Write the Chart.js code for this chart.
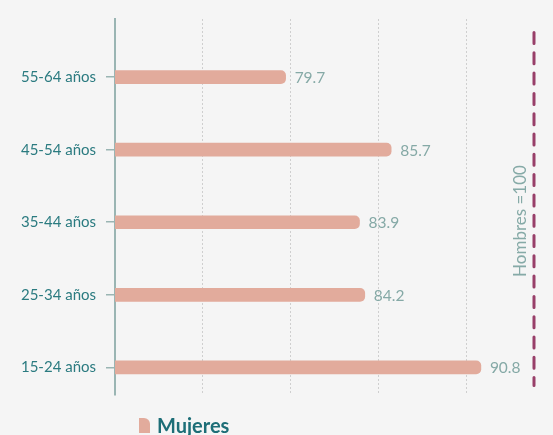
<!DOCTYPE html>
<html>
<head>
<meta charset="utf-8">
<script src="https://cdn.jsdelivr.net/npm/chart.js@4"></script>
<style>
  html, body { margin: 0; padding: 0; background: #f5f5f5; }
  #wrap { position: relative; width: 553px; height: 435px; overflow: hidden; }
  #legend { position: absolute; left: 139px; top: 413px; font: bold 20px Lato, sans-serif; color: #1d6e77; display: flex; align-items: center; }
  #legend .box { width: 11px; height: 15px; background: #e2ab9c; border-top-right-radius: 6px; margin-right: 7px; }
</style>
</head>
<body>
<div id="wrap">
  <canvas id="grafico" width="553" height="435"></canvas>
  <div id="legend"><span class="box"></span>Mujeres</div>
</div>
<script>
// datos
const categorias = ['55-64 años', '45-54 años', '35-44 años', '25-34 años', '15-24 años'];
const mujeres = [79.7, 85.7, 83.9, 84.2, 90.8];
const marcasX = [75, 80, 85, 90];
const referencia = 'Hombres =100';

// etiquetas de valor al final de cada barra
const etiquetasValor = {
  id: 'etiquetasValor',
  afterDatasetsDraw(chart) {
    const ctx = chart.ctx;
    const meta = chart.getDatasetMeta(0);
    ctx.save();
    ctx.font = '15.5px Lato, sans-serif';
    ctx.fillStyle = '#85a9a6';
    ctx.textAlign = 'left';
    ctx.textBaseline = 'middle';
    meta.data.forEach((bar, i) => {
      ctx.fillText(mujeres[i].toFixed(1), bar.x + 9, bar.y + 1);
    });
    ctx.restore();
  }
};

// linea discontinua de referencia (Hombres = 100)
const lineaReferencia = {
  id: 'lineaReferencia',
  afterDraw(chart) {
    const ctx = chart.ctx;
    const area = chart.chartArea;
    const x = area.right - 19;
    ctx.save();
    ctx.strokeStyle = '#983f69';
    ctx.lineWidth = 3;
    ctx.lineCap = 'round';
    ctx.setLineDash([11, 9.3]);
    ctx.beginPath();
    ctx.moveTo(x, area.top + 13.5);
    ctx.lineTo(x, area.bottom - 9.5);
    ctx.stroke();

    ctx.translate(x - 13.5, (area.top + area.bottom) / 2 + 14);
    ctx.rotate(-Math.PI / 2);
    ctx.font = '17px Lato, sans-serif';
    ctx.fillStyle = '#86aaa7';
    ctx.textAlign = 'center';
    ctx.textBaseline = 'middle';
    ctx.fillText(referencia, 0, 0);
    ctx.restore();
  }
};

new Chart(document.getElementById('grafico'), {
  type: 'bar',
  data: {
    datasets: [{
      label: 'Mujeres',
      data: mujeres.map((v, i) => ({ x: v, y: i })),
      backgroundColor: '#e2ab9c',
      borderWidth: 0,
      borderRadius: 5,
      barThickness: 13
    }]
  },
  options: {
    responsive: false,
    animation: false,
    indexAxis: 'y',
    layout: { padding: { top: 15, bottom: 40, left: 0, right: 0 } },
    plugins: {
      legend: { display: false },
      tooltip: { enabled: false }
    },
    scales: {
      x: {
        min: 70,
        max: 94.9,
        afterBuildTicks: s => { s.ticks = marcasX.map(v => ({ value: v })); },
        ticks: { display: false },
        grid: { color: '#cfcfcf', lineWidth: 1, drawTicks: false },
        border: { display: false, dash: [2, 2] }
      },
      y: {
        type: 'linear',
        reverse: true,
        offset: false,
        min: -0.8,
        max: 4.38,
        afterBuildTicks: s => { s.ticks = categorias.map((c, i) => ({ value: i })); },
        afterFit: s => { s.width = 115; },
        ticks: {
          callback: v => categorias[v],
          color: '#2b7b80',
          font: { family: 'Lato', size: 15 },
          padding: 10,
          autoSkip: false
        },
        grid: { offset: false, drawOnChartArea: false, tickLength: 9, color: '#9ab5b3', lineWidth: 1.5 },
        border: { color: '#9ab5b3', width: 2 }
      }
    }
  },
  plugins: [etiquetasValor, lineaReferencia]
});
</script>
</body>
</html>
